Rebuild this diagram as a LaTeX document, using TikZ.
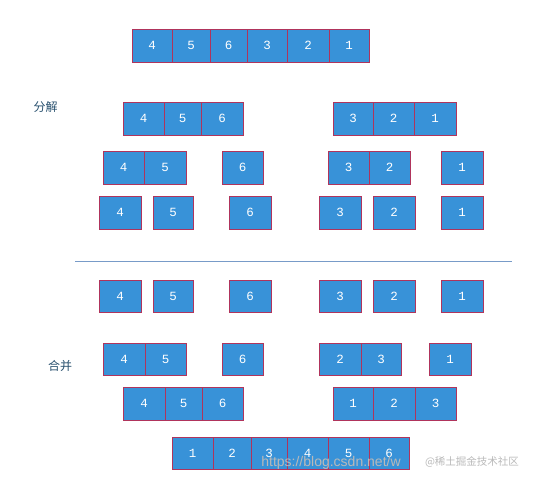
\documentclass[tikz,border=0pt]{standalone}
\usepackage{fontspec}
\setmainfont{Liberation Sans}
\newfontfamily\cjk{Noto Sans CJK SC}
\newfontfamily\digitfont{Liberation Mono}
\definecolor{boxblue}{RGB}{56,146,216}
\definecolor{boxedge}{RGB}{176,52,92}
\definecolor{lblcol}{RGB}{40,80,110}
\definecolor{rulecol}{RGB}{120,155,200}
\tikzset{
  cell/.style={draw=boxedge, fill=boxblue, text=white, inner sep=0pt,
    line width=0.8pt, font=\digitfont\fontsize{12.5}{14}\selectfont},
  steplabel/.style={text=lblcol, font=\cjk\fontsize{12}{14}\selectfont, inner sep=0pt},
  wmark/.style={text=gray!55, inner sep=0pt}
}
\newcommand{\cellbox}[6]{%
  \node[cell, minimum width={(#3-#2)*1pt}, minimum height={#5*1pt}] (#1) at ({(#2+#3)/2},#4) {#6};}
\begin{document}
\begin{tikzpicture}[x=1pt,y=-1pt]
\useasboundingbox (0,0) rectangle (535,482);
% row 1
\cellbox{ra}{132}{172}{45.5}{33}{4}
\cellbox{rb}{172}{210}{45.5}{33}{5}
\cellbox{rc}{210}{247}{45.5}{33}{6}
\cellbox{rd}{247}{287}{45.5}{33}{3}
\cellbox{re}{287}{329}{45.5}{33}{2}
\cellbox{rf}{329}{369}{45.5}{33}{1}
% row 2
\cellbox{sa}{123}{164}{118.5}{33}{4}
\cellbox{sb}{164}{201}{118.5}{33}{5}
\cellbox{sc}{201}{243}{118.5}{33}{6}
\cellbox{sd}{333}{373}{118.5}{33}{3}
\cellbox{se}{373}{414}{118.5}{33}{2}
\cellbox{sf}{414}{456}{118.5}{33}{1}
% row 3
\cellbox{ta}{103}{144}{167.5}{33}{4}
\cellbox{tb}{144}{186}{167.5}{33}{5}
\cellbox{tc}{222}{263}{167.5}{33}{6}
\cellbox{td}{328}{369}{167.5}{33}{3}
\cellbox{te}{369}{410}{167.5}{33}{2}
\cellbox{tf}{441}{483}{167.5}{33}{1}
% row 4
\cellbox{ua}{99}{141}{212.5}{33}{4}
\cellbox{ub}{153}{193}{212.5}{33}{5}
\cellbox{uc}{229}{271}{212.5}{33}{6}
\cellbox{ud}{319}{361}{212.5}{33}{3}
\cellbox{ue}{373}{415}{212.5}{33}{2}
\cellbox{uf}{441}{483}{212.5}{33}{1}
% divider
\coordinate (l1) at (75,261);
\coordinate (l2) at (512,261);
\draw[rulecol, line width=0.9pt] (l1) -- (l2);
% row 5
\cellbox{va}{99}{141}{296.3}{32.5}{4}
\cellbox{vb}{153}{193}{296.3}{32.5}{5}
\cellbox{vc}{229}{271}{296.3}{32.5}{6}
\cellbox{vd}{319}{361}{296.3}{32.5}{3}
\cellbox{ve}{373}{415}{296.3}{32.5}{2}
\cellbox{vf}{441}{483}{296.3}{32.5}{1}
% row 6
\cellbox{wa}{103}{145}{359}{32}{4}
\cellbox{wb}{145}{186}{359}{32}{5}
\cellbox{wc}{222}{263}{359}{32}{6}
\cellbox{wd}{319}{361}{359}{32}{2}
\cellbox{we}{361}{401}{359}{32}{3}
\cellbox{wf}{429}{471}{359}{32}{1}
% row 7
\cellbox{xa}{123}{165}{403.5}{33}{4}
\cellbox{xb}{165}{202}{403.5}{33}{5}
\cellbox{xc}{202}{243}{403.5}{33}{6}
\cellbox{xd}{333}{373}{403.5}{33}{1}
\cellbox{xe}{373}{415}{403.5}{33}{2}
\cellbox{xf}{415}{456}{403.5}{33}{3}
% row 8
\cellbox{ya}{172}{213}{453}{32}{1}
\cellbox{yb}{213}{251}{453}{32}{2}
\cellbox{yc}{251}{287}{453}{32}{3}
\cellbox{yd}{287}{328}{453}{32}{4}
\cellbox{ye}{328}{369}{453}{32}{5}
\cellbox{yf}{369}{409}{453}{32}{6}
% labels
\node[steplabel] (split) at (45.5,107) {分解};
\node[steplabel] (merge) at (60,366) {合并};
% watermark
\node[wmark, font=\fontsize{14}{16}\selectfont] (wm1) at (331,463) {https://blog.csdn.net/w};
\node[wmark, font=\cjk\fontsize{10.5}{12}\selectfont] (wm2) at (472,462) {@稀土掘金技术社区};
\end{tikzpicture}
\end{document}
